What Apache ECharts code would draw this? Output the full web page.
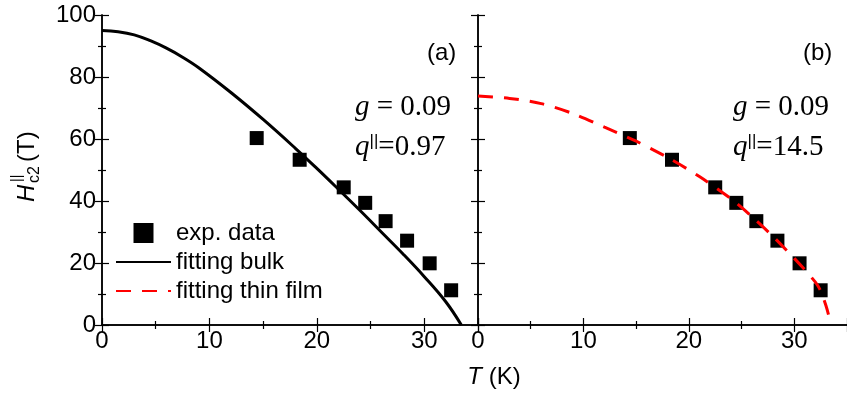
<!DOCTYPE html>
<html><head><meta charset="utf-8">
<script src="https://cdn.jsdelivr.net/npm/echarts@6/dist/echarts.min.js"></script>
<style>html,body{margin:0;padding:0;background:#fff}#c{width:847px;height:394px}</style>
</head><body><div id="c"></div>
<script>
// experimental data (same in both panels)
const expT = [14.4, 18.4, 22.5, 24.5, 26.4, 28.4, 30.5, 32.5];
const expH = [60.3, 53.3, 44.4, 39.4, 33.5, 27.2, 19.9, 11.2];
// fitting bulk curve (panel a)
const bulkT = [0, 1.5, 3, 4.5, 6, 7.5, 9, 12, 15, 18, 20, 22, 24, 26, 28, 30, 32, 33.45];
const bulkH = [95, 94.6, 93.6, 91.7, 89.3, 86.4, 83.0, 75, 66.3, 57, 50.5, 43.8, 37, 30, 23, 15.6, 7.5, 0];
// fitting thin film curve (panel b)
const filmT = [0, 3, 6, 9, 12, 15, 18, 21, 24, 26, 28, 30, 31, 32, 32.5, 33, 33.3, 33.45];
const filmH = [73.9, 73.1, 71.4, 68.2, 63.8, 59.3, 54.0, 47.9, 40.7, 34.9, 28.5, 21.5, 17.8, 13.8, 11.0, 6.3, 2.6, 0];
// tick labels
const xTickLabels = [0, 10, 20, 30];
const yTickLabels = [0, 20, 40, 60, 80, 100];

const SANS = '"Liberation Sans", Arial, sans-serif';
const SERIF = '"Liberation Serif", "Times New Roman", serif';
const zip = (a, b) => a.map((v, i) => [v, b[i]]);

const axisLine = { show: true, lineStyle: { color: '#000', width: 1.5 } };
const tick = { show: true, inside: true, length: 7, lineStyle: { color: '#000', width: 1.2 } };
const minor = { show: true, splitNumber: 2, length: 4, lineStyle: { color: '#000', width: 1.2 } };

function xAx(grid, pos, labels) {
  return {
    type: 'value', gridIndex: grid, position: pos, min: 0, max: 35, interval: 10,
    axisLine, axisTick: tick, minorTick: minor, splitLine: { show: false },
    axisLabel: labels ? {
      show: true, fontSize: 24, fontFamily: SANS, color: '#000', margin: 4, showMaxLabel: false,
      formatter: v => xTickLabels.includes(v) ? String(v) : ''
    } : { show: false }
  };
}
function yAx(grid, pos, labels) {
  return {
    type: 'value', gridIndex: grid, position: pos, min: 0, max: 100, interval: 20,
    axisLine, axisTick: tick, minorTick: minor, splitLine: { show: false },
    axisLabel: labels ? {
      show: true, fontSize: 24, fontFamily: SANS, color: '#000', margin: 6,
      formatter: v => yTickLabels.includes(v) ? String(v) : ''
    } : { show: false }
  };
}

const chart = echarts.init(document.getElementById('c'), null, { renderer: 'canvas' });
chart.setOption({
  animation: false,
  backgroundColor: '#fff',
  grid: [
    { left: 102, top: 15, width: 376, height: 310 },
    { left: 478, top: 15, width: 376, height: 310 }
  ],
  xAxis: [xAx(0, 'bottom', true), xAx(0, 'top', false), xAx(1, 'bottom', true), xAx(1, 'top', false)],
  yAxis: [yAx(0, 'left', true), yAx(0, 'right', false), yAx(1, 'left', false), yAx(1, 'right', false)],
  legend: {
    orient: 'vertical', left: 115, top: 221, padding: 0, itemWidth: 55, itemHeight: 20, itemGap: 5,
    selectedMode: false,
    textStyle: { fontSize: 24, fontFamily: SANS, color: '#000' },
    data: [
      { name: 'exp. data', icon: 'path://M0,0L10,0L10,10L0,10Z', itemStyle: { opacity: 1 } },
      { name: 'fitting bulk', itemStyle: { opacity: 0 } },
      { name: 'fitting thin film', itemStyle: { opacity: 0 } }
    ]
  },
  series: [
    { name: 'exp. data', type: 'scatter', xAxisIndex: 0, yAxisIndex: 0, symbol: 'rect', symbolSize: 14,
      itemStyle: { color: '#000', opacity: 1 }, data: zip(expT, expH), z: 2 },
    { name: 'fitting bulk', type: 'line', xAxisIndex: 0, yAxisIndex: 0, symbol: 'none', smooth: 0.4,
      lineStyle: { color: '#000', width: 3 }, itemStyle: { color: '#000' }, data: zip(bulkT, bulkH), z: 3 },
    { name: 'exp. data', type: 'scatter', xAxisIndex: 2, yAxisIndex: 2, symbol: 'rect', symbolSize: 14,
      itemStyle: { color: '#000', opacity: 1 }, data: zip(expT, expH), z: 2 },
    { name: 'fitting thin film', type: 'line', xAxisIndex: 2, yAxisIndex: 2, symbol: 'none', smooth: 0.3,
      lineStyle: { color: '#ff0000', width: 3, type: [15, 11] }, itemStyle: { color: '#ff0000' },
      data: zip(filmT, filmH), z: 3 }
  ],
  graphic: [
    { type: 'text', x: 427, y: 53, style: { text: '(a)', font: '24px ' + SANS, fill: '#000', textVerticalAlign: 'middle', verticalAlign: 'middle' } },
    { type: 'text', x: 803, y: 53, style: { text: '(b)', font: '24px ' + SANS, fill: '#000', textVerticalAlign: 'middle', verticalAlign: 'middle' } },
    { type: 'text', x: 355, y: 107, style: { text: '{i|g}{n| = 0.09}', fill: '#000', textVerticalAlign: 'middle', verticalAlign: 'middle',
        rich: { i: { font: 'italic 29px ' + SERIF, fill: '#000' }, n: { font: '29px ' + SERIF, fill: '#000' } } } },
    { type: 'text', x: 355, y: 147, style: { text: '{i|q}{s|||}{n|=0.97}', fill: '#000', textVerticalAlign: 'middle', verticalAlign: 'middle',
        rich: { i: { font: 'italic 29px ' + SERIF, fill: '#000' }, s: { font: '17px ' + SANS, fill: '#000', verticalAlign: 'top', padding: [0, 0, 0, 0] }, n: { font: '29px ' + SERIF, fill: '#000' } } } },
    { type: 'text', x: 733, y: 107, style: { text: '{i|g}{n| = 0.09}', fill: '#000', textVerticalAlign: 'middle', verticalAlign: 'middle',
        rich: { i: { font: 'italic 29px ' + SERIF, fill: '#000' }, n: { font: '29px ' + SERIF, fill: '#000' } } } },
    { type: 'text', x: 733, y: 147, style: { text: '{i|q}{s|||}{n|=14.5}', fill: '#000', textVerticalAlign: 'middle', verticalAlign: 'middle',
        rich: { i: { font: 'italic 29px ' + SERIF, fill: '#000' }, s: { font: '17px ' + SANS, fill: '#000', verticalAlign: 'top', padding: [0, 0, 0, 0] }, n: { font: '29px ' + SERIF, fill: '#000' } } } },
    { type: 'text', x: 494, y: 377, style: { text: '{i|T}{n| (K)}', fill: '#000', textAlign: 'center', align: 'center', textVerticalAlign: 'middle', verticalAlign: 'middle',
        rich: { i: { font: 'italic 24px ' + SANS, fill: '#000' }, n: { font: '24px ' + SANS, fill: '#000' } } } },
    { type: 'group', x: 27, y: 202, rotation: Math.PI / 2, children: [
        { type: 'text', x: 0, y: 0, style: { text: 'H', font: 'italic 24px ' + SANS, fill: '#000', textVerticalAlign: 'middle', verticalAlign: 'middle' } },
        { type: 'text', x: 20, y: -10, style: { text: '||', font: '14px ' + SANS, fill: '#000', textVerticalAlign: 'middle', verticalAlign: 'middle' } },
        { type: 'text', x: 19, y: 8, style: { text: 'c2', font: '16px ' + SANS, fill: '#000', textVerticalAlign: 'middle', verticalAlign: 'middle' } },
        { type: 'text', x: 40, y: 0, style: { text: '(T)', font: '24px ' + SANS, fill: '#000', textVerticalAlign: 'middle', verticalAlign: 'middle' } }
    ] }
  ]
});
</script></body></html>
